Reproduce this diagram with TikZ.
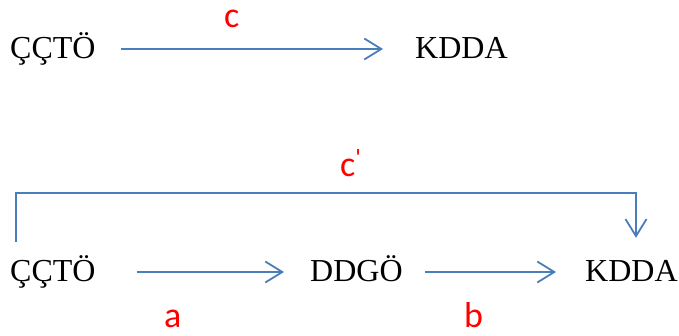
\documentclass[tikz,border=0pt]{standalone}
\usepackage{fontspec}
\setmainfont{Liberation Serif}
\newfontfamily\labelfont{Carlito}
\usetikzlibrary{arrows.meta}
\definecolor{linkblue}{HTML}{4A7EBB}
\definecolor{labred}{HTML}{FF0000}
\tikzset{
  term/.style={inner sep=0pt, anchor=base west, text height=18pt, text depth=0pt,
    font=\fontsize{32}{36}\selectfont},
  arr/.style={draw=linkblue, line width=1.8pt,
    -{Straight Barb[length=17pt, width=21pt, line width=1.8pt]}},
  lab/.style={inner sep=0pt, anchor=base west, text=labred,
    font=\labelfont\fontsize{36}{40}\selectfont}
}
\begin{document}
\begin{tikzpicture}[x=1pt, y=-1pt]
\useasboundingbox (0,0) rectangle (679,335);
% direct route
\node[term] (t1) at (10,58) {ÇÇTÖ};
\node[term] (t2) at (415,58) {KDDA};
\draw[arr, shorten <=25pt, shorten >=32pt] (t1.east) -- (t2.west);
\node[lab] (lc) at (224,27) {c};
% route through the intermediate step
\node[term] (b1) at (10,281) {ÇÇTÖ};
\node[term] (b2) at (310,281) {DDGÖ};
\node[term] (b3) at (585,281) {KDDA};
\draw[arr, shorten <=41pt, shorten >=26pt] (b1.east) -- (b2.west);
\draw[arr, shorten <=22pt, shorten >=29pt] (b2.east) -- (b3.west);
\node[lab] (la) at (164,327) {a};
\node[lab] (lb) at (464,327) {b};
% bypass from the first to the last term
\coordinate (corner) at (636,193);
\draw[arr] ([xshift=5.7pt, yshift=21pt]b1.north west) |- (corner)
  -- ([yshift=25pt]corner |- b3.north);
\node[lab] (lcp) at (340,176) {c\textsuperscript{\textquotesingle}};
\end{tikzpicture}
\end{document}
